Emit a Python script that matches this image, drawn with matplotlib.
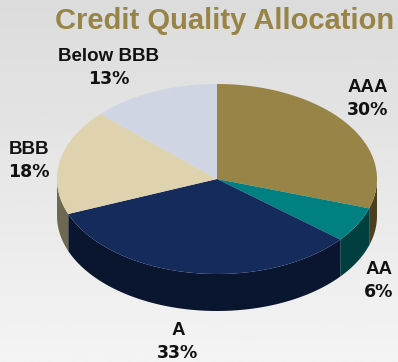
import numpy as np
import matplotlib
matplotlib.use('Agg')
import matplotlib.pyplot as plt

labels = ['AAA', 'AA', 'A', 'BBB', 'Below BBB']
values = [30, 6, 33, 18, 13]
top_colors = ['#998447', '#008080', '#142B5C', '#DFD2AE', '#CFD5E2']
side_colors = ['#4A3F1E', '#003F3F', '#0A1630', '#6E6850', '#8A8F99']
# label name baselines in pixels, percent sits one line under
label_pos = [(368, 92), (379, 274), (178, 335), (29, 154), (109, 61)]

W, H = 398, 362
cx, cy, rx, ry, depth = 217, 179, 160, 95, 37
tilt_start = 90  # first slice starts at 12 o'clock, going clockwise

plt.rcParams['font.family'] = ['Liberation Sans', 'DejaVu Sans']
fig = plt.figure(figsize=(W / 100, H / 100), dpi=100)
ax = fig.add_axes([0, 0, 1, 1])
ax.set_xlim(0, W)
ax.set_ylim(H, 0)
ax.axis('off')

# background, grey at the top and lighter to the bottom
grad = np.linspace(0.86, 0.955, 256).reshape(-1, 1)
ax.imshow(grad, cmap='gray', vmin=0, vmax=1, extent=[0, W, H, 0], aspect='auto', zorder=0)


def ell(a):
    a = np.radians(a)
    return cx + rx * np.cos(a), cy - ry * np.sin(a)


angles = tilt_start - np.cumsum([0] + values) * 3.6
# sides first, only the front half shows
for i in range(len(values)):
    t = np.linspace(angles[i], angles[i + 1], 100)
    x, y = ell(t)
    front = np.sin(np.radians(t)) <= 0
    if front.any():
        x, y = x[front], y[front]
        ax.fill(np.r_[x, x[::-1]], np.r_[y, y[::-1] + depth], color=side_colors[i], lw=0, zorder=2)

# top slices
for i in range(len(values)):
    t = np.linspace(angles[i], angles[i + 1], 100)
    x, y = ell(t)
    ax.fill(np.r_[cx, x], np.r_[cy, y], color=top_colors[i], lw=0, zorder=3)

ax.text(225, 29, 'Credit Quality Allocation', color='#998447', fontsize=21, fontweight='bold',
        ha='center', va='baseline', zorder=5)
for i in range(len(labels)):
    x, y = label_pos[i]
    ax.text(x, y, labels[i], color='#111111', fontsize=13.5, fontweight='bold',
            ha='center', va='baseline', zorder=5)
    # percents are drawn wider in the original
    ax.text(x, y + 23, str(values[i]) + '%', color='#111111', fontsize=12.5, fontweight='bold',
            family='DejaVu Sans', ha='center', va='baseline', zorder=5)

fig.savefig('out.png', dpi=100)
